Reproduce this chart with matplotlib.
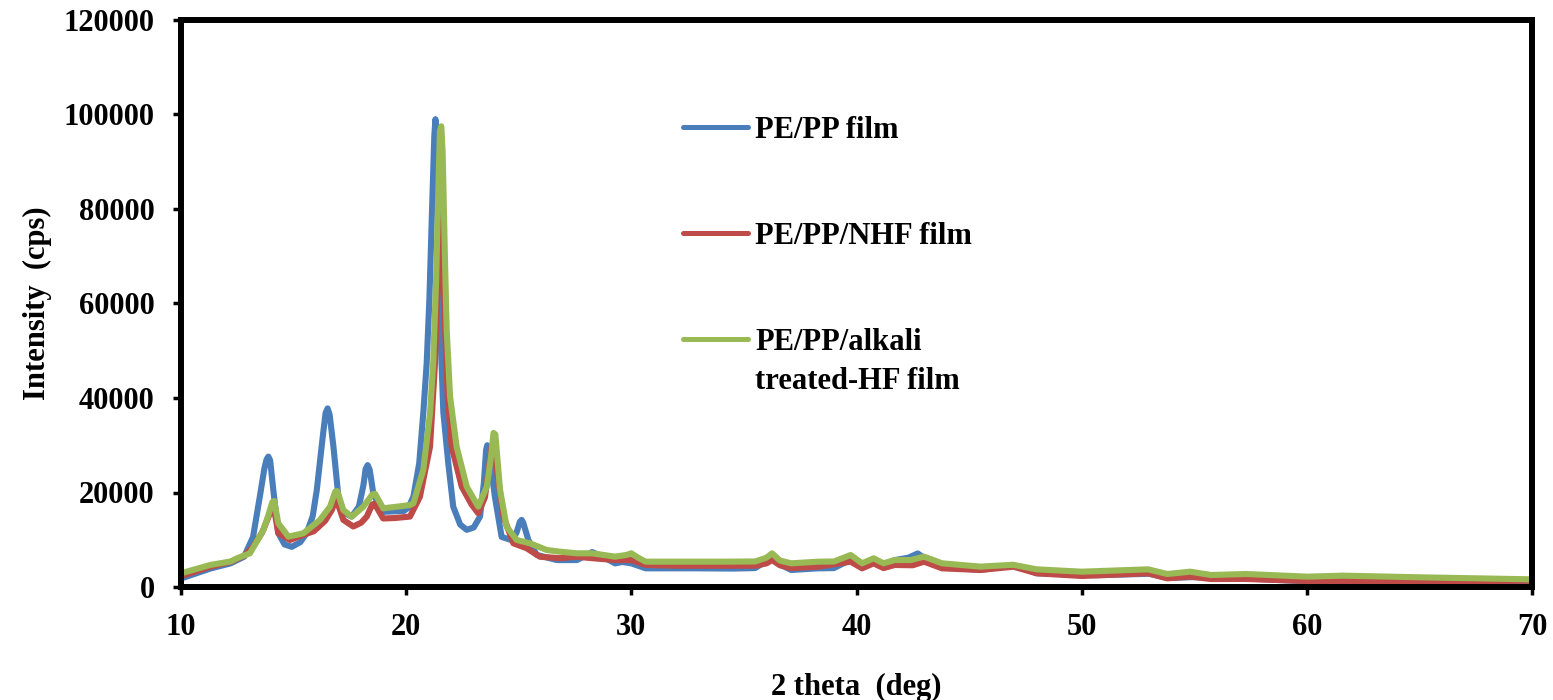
import matplotlib
matplotlib.use("Agg")
import matplotlib.pyplot as plt

plt.rcParams["font.family"] = ["Liberation Serif", "DejaVu Serif"]
plt.rcParams["font.weight"] = "bold"

# X-ray diffraction patterns: 2 theta (deg) and intensity (cps)
theta_pepp = [10.0, 11.3, 12.2, 12.8, 13.2, 13.5, 13.7, 13.8, 13.88, 13.96, 14.1, 14.32, 14.6,
              14.92, 15.3, 15.58, 15.85, 16.03, 16.3, 16.42, 16.51, 16.6, 16.77, 16.99, 17.2,
              17.58, 17.9, 18.1, 18.2, 18.29, 18.38, 18.54, 18.91, 19.4, 19.9, 20.1, 20.32,
              20.58, 20.76, 20.91, 21.03, 21.15, 21.25, 21.3, 21.35, 21.42, 21.52, 21.65,
              21.87, 22.09, 22.4, 22.69, 23.0, 23.28, 23.45, 23.55, 23.6, 23.68, 23.75,
              23.94, 24.24, 24.69, 24.9, 25.05, 25.13, 25.2, 25.43, 25.8, 26.69, 27.58,
              28.0, 28.26, 28.7, 29.28, 29.6, 30.0, 30.64, 31.5, 33.0, 34.5, 35.5, 36.0,
              36.2, 36.5, 37.1, 38.3, 39.0, 39.7, 40.25, 40.76, 41.2, 41.7, 42.3, 42.72,
              43.2, 43.8, 45.5, 46.97, 48.0, 50.7, 53.0, 53.8, 55.0, 57.3, 60.0, 65.0, 70.0]
int_pepp = [1800, 3900, 5000, 6400, 10600, 19100, 25000, 27000, 27600, 26800, 20500, 11400,
            9000, 8500, 9500, 11400, 15000, 20500, 32000, 36800, 37800, 36500, 29700, 19100,
            15800, 14900, 17000, 21500, 25000, 25800, 24800, 19800, 15900, 16000, 16100,
            16800, 19100, 26200, 36800, 47300, 60700, 80000, 95500, 99000, 95500, 78000,
            54000, 37000, 26200, 17000, 13200, 12100, 12600, 14900, 22000, 29000, 30000,
            29000, 26000, 19100, 10600, 9900, 11500, 13800, 14200, 13600, 9900, 6800, 5700,
            5700, 6700, 7400, 6500, 5000, 5300, 5000, 3950, 3950, 3950, 3900, 4000, 5500,
            6700, 5000, 3600, 3950, 4000, 5700, 4600, 5300, 4700, 5700, 6200, 7100, 5500,
            4300, 3600, 4600, 2900, 2500, 2800, 1900, 2100, 1800, 1200, 1100, 1300]

theta_nhf = [10.0, 11.3, 12.2, 12.8, 13.2, 13.6, 13.9, 14.05, 14.12, 14.32, 14.84, 15.3,
             15.9, 16.4, 16.7, 16.84, 16.92, 17.21, 17.65, 18.0, 18.25, 18.5, 18.6, 18.98,
             19.5, 20.17, 20.61, 21.06, 21.28, 21.42, 21.5, 21.57, 21.68, 21.85, 22.02,
             22.47, 22.9, 23.2, 23.5, 23.8, 23.9, 24.05, 24.32, 24.76, 25.35, 25.94, 26.83,
             27.58, 28.26, 29.28, 30.0, 30.64, 32.0, 34.0, 35.5, 36.0, 36.25, 36.6, 37.1,
             38.3, 39.74, 40.25, 40.76, 41.2, 41.7, 42.5, 43.0, 43.8, 45.5, 46.97, 48.0,
             50.0, 52.95, 53.8, 54.82, 55.75, 57.3, 60.0, 65.0, 70.0]
int_nhf = [2300, 4300, 5300, 6600, 8500, 11500, 15000, 16700, 16900, 11400, 9950, 10800,
           11800, 14000, 16300, 18200, 18300, 14200, 12800, 13600, 14900, 17500, 17600,
           14500, 14600, 14900, 19100, 29700, 47300, 68000, 76500, 77500, 60000, 40000,
           29700, 21200, 17500, 15600, 19000, 29800, 30200, 24000, 14900, 9250, 8200, 6400,
           6100, 6400, 6100, 5700, 5700, 4660, 4500, 4500, 4500, 5000, 5700, 4600, 4000,
           4300, 5360, 3950, 5000, 4000, 4660, 4600, 5360, 3950, 3600, 4300, 2900, 2330,
           2900, 1840, 2190, 1690, 1700, 1270, 1130, 1340]

theta_ahf = [10.0, 11.3, 12.2, 12.5, 13.06, 13.66, 13.9, 14.06, 14.14, 14.32, 14.77, 15.43,
             16.17, 16.62, 16.85, 16.94, 17.21, 17.58, 18.1, 18.5, 18.62, 18.98, 19.6,
             20.17, 20.32, 20.76, 21.06, 21.2, 21.33, 21.45, 21.5, 21.56, 21.62, 21.72,
             21.8, 21.95, 22.24, 22.69, 23.2, 23.58, 23.78, 23.88, 23.96, 24.17, 24.46,
             24.91, 25.5, 26.24, 26.83, 27.58, 28.26, 29.28, 29.8, 30.0, 30.3, 30.64, 32.0,
             34.0, 35.5, 36.0, 36.25, 36.6, 37.1, 38.3, 39.0, 39.74, 40.25, 40.76, 41.2,
             41.7, 42.4, 43.0, 43.8, 45.5, 46.95, 48.0, 50.0, 52.95, 53.8, 54.82, 55.75,
             57.3, 60.0, 61.6, 65.05, 70.0]
int_ahf = [2900, 4660, 5400, 6100, 7130, 12060, 15500, 18000, 18200, 13480, 10650, 11360,
           14180, 17000, 20200, 20300, 16300, 14880, 17000, 19600, 19700, 16650, 17000,
           17350, 17710, 24760, 36760, 47340, 65000, 88000, 96500, 97500, 92000, 70000,
           54400, 40280, 29700, 21230, 17000, 21230, 28000, 32600, 32300, 20530, 12760,
           9950, 9250, 7830, 7470, 7130, 7130, 6420, 6800, 7130, 6200, 5360, 5360, 5360,
           5400, 6200, 7130, 5600, 5010, 5360, 5400, 6770, 5010, 6070, 5010, 5710, 5700,
           6420, 5010, 4310, 4700, 3740, 3240, 3740, 2750, 3240, 2540, 2750, 2190, 2400,
           2050, 1620]

series_labels = ["PE/PP film", "PE/PP/NHF film", "PE/PP/alkali\ntreated-HF film"]
series_colors = ["#4A7EBB", "#BE4B48", "#98B954"]
x_ticks = [10, 20, 30, 40, 50, 60, 70]
y_ticks = [0, 20000, 40000, 60000, 80000, 100000, 120000]

fig = plt.figure(figsize=(15.53, 7.0), dpi=100)
ax = fig.add_axes([181 / 1553, 1 - 587 / 700, 1351 / 1553, 567 / 700])

lw = 4.4
data = [(theta_pepp, int_pepp), (theta_nhf, int_nhf), (theta_ahf, int_ahf)]
for (tx, iy), col in zip(data, series_colors):
    ax.plot(tx, iy, color=col, lw=lw, solid_joinstyle="round", solid_capstyle="round")

ax.set_xlim(10, 70)
ax.set_ylim(0, 120000)
ax.set_xticks(x_ticks)
ax.set_yticks(y_ticks)
ax.set_xticklabels([str(v) for v in x_ticks])
ax.set_yticklabels([str(v) for v in y_ticks])

for side in ax.spines.values():
    side.set_linewidth(4.3)
    side.set_color("black")
    side.set_zorder(5)
ax.tick_params(axis="both", direction="out", length=6, width=2.5, colors="black",
               labelsize=22, pad=13)
for lab in ax.get_xticklabels() + ax.get_yticklabels():
    lab.set_fontweight("bold")

ax.set_xlabel("2 theta  (deg)", fontsize=22, fontweight="bold", labelpad=22)
ax.set_ylabel("Intensity  (cps)", fontsize=22, fontweight="bold", labelpad=8)

# Key: short line samples with their series names (first text line level with the sample)
key_x0, key_x1, key_tx = 0.3716, 0.4197, 0.4249
key_y = [0.8113, 0.6243, 0.4374]
for ky, col, lab in zip(key_y, series_colors, series_labels):
    ax.plot([key_x0, key_x1], [ky, ky], transform=ax.transAxes, color=col, lw=3.6,
            solid_capstyle="round")
    ax.text(key_tx, ky + 0.0195, lab, transform=ax.transAxes, fontsize=22,
            fontweight="bold", va="top", ha="left", linespacing=1.45)

fig.savefig("out.png", dpi=100)
